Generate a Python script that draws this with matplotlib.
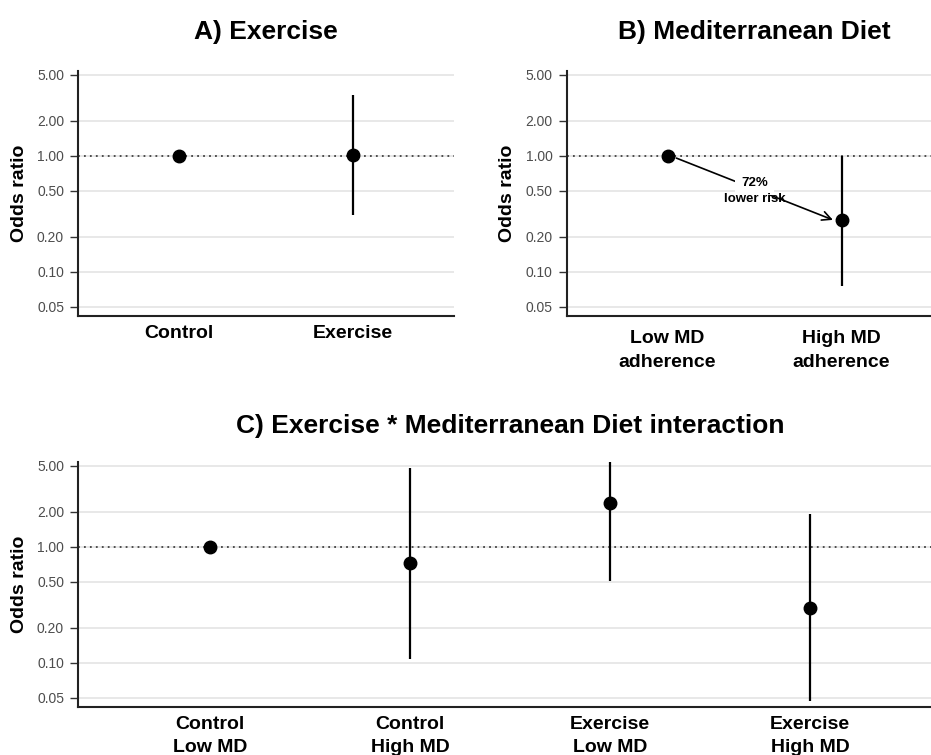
import numpy as np
import matplotlib
matplotlib.use('Agg')
import matplotlib.pyplot as plt

plt.rcParams['font.family'] = ['Liberation Sans', 'DejaVu Sans']

# Panel A: exercise
cats_a = ['Control', 'Exercise']
or_a = [1.00, 1.01]
lo_a = [np.nan, 0.306]
hi_a = [np.nan, 3.36]

# Panel B: Mediterranean diet adherence
cats_b = ['Low MD\nadherence', 'High MD\nadherence']
or_b = [1.00, 0.28]
lo_b = [np.nan, 0.076]
hi_b = [np.nan, 1.00]

# Panel C: interaction
cats_c = ['Control\nLow MD', 'Control\nHigh MD', 'Exercise\nLow MD', 'Exercise\nHigh MD']
or_c = [1.00, 0.72, 2.37, 0.298]
lo_c = [np.nan, 0.107, 0.506, 0.047]
hi_c = [np.nan, 4.8, 11.1, 1.91]

yticks = [0.05, 0.10, 0.20, 0.50, 1.00, 2.00, 5.00]
ylim = (0.0413, 5.4)

W, H = 931, 755
fig = plt.figure(figsize=(W / 100, H / 100), dpi=100)


def px_axes(left, top, right, bottom):
    return fig.add_axes([left / W, 1 - bottom / H, (right - left) / W, (bottom - top) / H])


def draw_panel(ax, cats, ors, los, his, xlim, title, title_y, label_x, xpad=6):
    x = np.arange(1, len(cats) + 1)
    ax.set_yscale('log')
    ax.set_ylim(*ylim)
    ax.set_xlim(*xlim)
    for yv in yticks:
        ax.axhline(yv, color='#e4e4e4', lw=1.2, zorder=0)
    ax.axhline(1.0, color='#404040', lw=1.3, ls=(0, (1, 2.3)), zorder=1)
    lo = np.array(los)
    hi = np.array(his)
    ok = ~np.isnan(lo)
    ax.vlines(x[ok], lo[ok], hi[ok], color='black', lw=1.6, zorder=2)
    ax.plot(x, ors, 'o', color='black', ms=9, zorder=3, clip_on=False)

    ax.set_yticks(yticks)
    ax.set_yticklabels(['%.2f' % v for v in yticks])
    ax.minorticks_off()
    ax.set_xticks(x)
    ax.set_xticklabels(cats, fontsize=14, fontweight='bold', linespacing=1.5)
    ax.tick_params(axis='y', length=6, width=1, color='#333333', labelsize=10,
                   labelcolor='#4d4d4d', pad=4)
    ax.tick_params(axis='x', length=0, pad=xpad)
    for s in ['top', 'right']:
        ax.spines[s].set_visible(False)
    for s in ['left', 'bottom']:
        ax.spines[s].set_color('#222222')
        ax.spines[s].set_linewidth(1.5)

    lab = ax.set_ylabel('Odds ratio', fontsize=14, fontweight='bold')
    lab.set_va('center')
    bb = ax.get_position()
    ax.yaxis.set_label_coords((label_x / W - bb.x0) / bb.width, 0.5)

    fig.text(bb.x0 + bb.width / 2, 1 - title_y / H, title, ha='center', va='baseline',
             fontsize=19, fontweight='bold')
    return x


ax_a = px_axes(78, 70.8, 453.8, 316.3)
draw_panel(ax_a, cats_a, or_a, lo_a, hi_a, (0.42, 2.58), 'A) Exercise', 39, 19.5)

ax_b = px_axes(566.7, 70.8, 942.5, 316.3)
xb = draw_panel(ax_b, cats_b, or_b, lo_b, hi_b, (0.42, 2.58), 'B) Mediterranean Diet', 39,
                507.5, xpad=10)

# arrow showing the lower risk
ax_b.annotate('', xy=(xb[1] - 0.05, or_b[1]), xytext=(xb[0] + 0.05, or_b[0] * 0.955),
              arrowprops=dict(arrowstyle='->', color='black', lw=1.2,
                              mutation_scale=16, shrinkA=0, shrinkB=0), zorder=2)
xm = (xb[0] + xb[1]) / 2
ax_b.text(xm, 0.585, '72%', ha='center', va='center', fontsize=9.5, fontweight='bold',
          zorder=4, bbox=dict(boxstyle='square,pad=0.45', fc='white', ec='none'))
ax_b.text(xm, 0.426, 'lower risk', ha='center', va='center', fontsize=9.5,
          fontweight='bold', zorder=4)

ax_c = px_axes(78, 461.8, 942, 707.3)
draw_panel(ax_c, cats_c, or_c, lo_c, hi_c, (0.34, 4.66),
           'C) Exercise * Mediterranean Diet interaction', 433, 19.5)

fig.savefig('out.png', dpi=100, facecolor='white')
